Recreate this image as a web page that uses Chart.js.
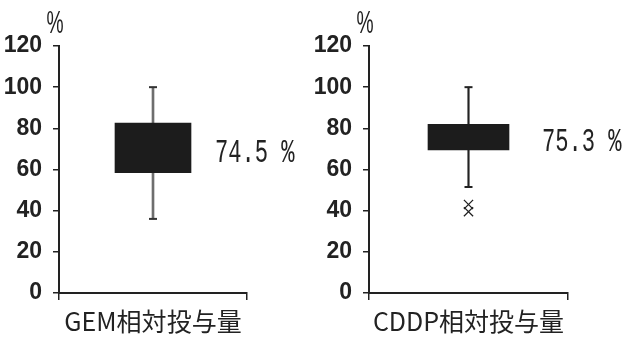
<!DOCTYPE html>
<html>
<head>
<meta charset="utf-8">
<script src="https://cdn.jsdelivr.net/npm/chart.js@4.4.1/dist/chart.umd.min.js"></script>
<style>
  body { margin: 0; background: #fff; }
  .wrap { display: flex; width: 623px; height: 340px; }
  canvas { display: block; }
</style>
</head>
<body>
<div class="wrap">
  <canvas id="gem-chart" width="311" height="340"></canvas>
  <canvas id="cddp-chart" width="312" height="340"></canvas>
</div>
<script>
// data
const gemLabels = ["GEM相対投与量"];
const gemBox = [58.5, 82.5];      // box low / high
const gemWhisker = [36, 100];     // whisker min / max
const gemOutliers = [];
const gemText = "74.5 %";

const cddpLabels = ["CDDP相対投与量"];
const cddpBox = [69.5, 82];
const cddpWhisker = [51.5, 100];
const cddpOutliers = [43, 39.5];
const cddpText = "75.3 %";

const yMin = 0;
const yMax = 120;
const yStep = 20;

const ink = "#222";

const boxText = {
    id: "boxText",
    afterDatasetsDraw(chart, args, opts) {
        const { ctx, chartArea, scales } = chart;
        ctx.save();
        ctx.fillStyle = ink;
        // unit above the y axis
        ctx.font = '31px "Liberation Sans Narrow", "Liberation Sans", sans-serif';
        ctx.textAlign = "center";
        ctx.textBaseline = "middle";
        ctx.save();
        ctx.translate(chartArea.left - 4, chartArea.top - 22);
        ctx.scale(0.62, 1);
        ctx.fillText("%", 0, 0);
        ctx.restore();
        // value label right of the box
        const bar = chart.getDatasetMeta(opts.boxIndex).data[0];
        const x = bar.x + bar.width / 2 + opts.gap;
        const y = scales.y.getPixelForValue(opts.yValue);
        ctx.font = '33px "Liberation Mono", monospace';
        ctx.textAlign = "left";
        ctx.translate(x, y);
        ctx.scale(0.67, 1);
        ctx.fillText(opts.text, 0, 0);
        ctx.restore();
    },
};

function makeChart(canvasId, labels, box, whisker, outliers, text, cfg) {
    const cat = labels[0];
    return new Chart(document.querySelector(canvasId).getContext("2d"), {
        type: "bar",
        data: {
            labels: labels,
            datasets: [
                {
                    label: "box",
                    data: [box],
                    backgroundColor: "#1c1c1c",
                    barThickness: cfg.boxWidth,
                    grouped: false,
                    order: 0,
                },
                {
                    type: "line",
                    label: "outliers",
                    data: outliers.map((v) => ({ x: cat, y: v })),
                    showLine: false,
                    pointStyle: "crossRot",
                    pointRadius: 6.5,
                    borderColor: ink,
                    borderWidth: 1.3,
                    order: 1,
                },
                {
                    type: "line",
                    label: "caps",
                    data: whisker.map((v) => ({ x: cat, y: v })),
                    showLine: false,
                    pointStyle: "line",
                    pointRadius: 4,
                    borderColor: cfg.capColor,
                    borderWidth: 2,
                    order: 2,
                },
                {
                    label: "whisker",
                    data: [whisker],
                    backgroundColor: cfg.whiskerColor,
                    barThickness: cfg.whiskerWidth,
                    grouped: false,
                    order: 3,
                },
            ],
        },
        options: {
            responsive: false,
            animation: false,
            events: [],
            layout: {
                padding: { top: 46, right: cfg.padRight, bottom: 0, left: 0 },
            },
            plugins: {
                legend: { display: false },
                tooltip: { enabled: false },
                boxText: {
                    boxIndex: 0,
                    text: text,
                    gap: cfg.textGap,
                    yValue: cfg.textY,
                },
            },
            scales: {
                x: {
                    offset: true,
                    grid: {
                        offset: true,
                        drawOnChartArea: false,
                        tickLength: 7,
                        color: ink,
                        lineWidth: 1.5,
                    },
                    border: { color: ink, width: 2 },
                    ticks: {
                        padding: 6,
                        color: ink,
                        font: { family: '"Noto Sans CJK JP", sans-serif', size: 25 },
                    },
                    afterFit: (scale) => {
                        scale.height = 47;
                    },
                },
                y: {
                    min: yMin,
                    max: yMax,
                    ticks: {
                        stepSize: yStep,
                        padding: 11,
                        color: ink,
                        font: {
                            family: '"Liberation Sans Narrow", "Liberation Sans", sans-serif',
                            size: 23,
                            weight: "bold",
                        },
                    },
                    grid: {
                        drawOnChartArea: false,
                        tickLength: 6,
                        color: ink,
                        lineWidth: 1.5,
                    },
                    border: { color: ink, width: 2 },
                    afterFit: (scale) => {
                        scale.width = cfg.axisX;
                    },
                },
            },
        },
        plugins: [boxText],
    });
}

makeChart("#gem-chart", gemLabels, gemBox, gemWhisker, gemOutliers, gemText, {
    boxWidth: 76,
    whiskerWidth: 2,
    whiskerColor: "#6e6e6e",
    capColor: "#333",
    padRight: 64,
    axisX: 59,
    textGap: 24,
    textY: 67.7,
});

makeChart("#cddp-chart", cddpLabels, cddpBox, cddpWhisker, cddpOutliers, cddpText, {
    boxWidth: 81,
    whiskerWidth: 1.5,
    whiskerColor: ink,
    capColor: ink,
    padRight: 55,
    axisX: 58,
    textGap: 33,
    textY: 73,
});
</script>
</body>
</html>
